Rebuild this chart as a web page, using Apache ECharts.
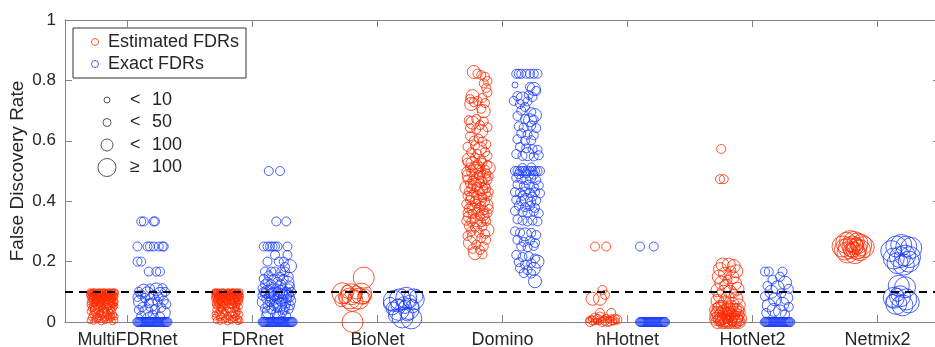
<!DOCTYPE html>
<html>
<head>
<meta charset="utf-8">
<script src="https://cdn.jsdelivr.net/npm/echarts@6/dist/echarts.min.js"></script>
<style>
  html, body { margin: 0; padding: 0; background: #fff; }
  #chart { width: 935px; height: 347px; }
</style>
</head>
<body>
<div id="chart"></div>
<script>
const categories = ["MultiFDRnet", "FDRnet", "BioNet", "Domino", "hHotnet", "HotNet2", "Netmix2"];

/** size legend: class 1..4 */
const sizeOps = ["<", "<", "<", "≥"];
const sizeLimits = [10, 50, 100, 100];

/** every point: [jitter from group centre, FDR, size class] */
const multiFdrEst = [
    [-0.10,0.100,1],[-0.08,0.099,1],[-0.06,0.100,1],[-0.04,0.098,1],[-0.02,0.100,1],[0.00,0.099,1],[0.02,0.100,1],[0.04,0.097,1],[0.06,0.100,1],[0.08,0.099,1],[0.10,0.100,1],
    [-0.095,0.097,1],[-0.075,0.1,1],[-0.055,0.097,1],[-0.035,0.1,1],[-0.015,0.096,1],[0.005,0.1,1],[0.025,0.096,1],[0.045,0.1,1],[0.065,0.096,1],[0.085,0.1,1],[0.105,0.096,1],
    [-0.09,0.094,1],[-0.07,0.092,1],[-0.05,0.095,1],[-0.03,0.091,1],[-0.01,0.094,1],[0.01,0.092,1],[0.03,0.095,1],[0.05,0.090,1],[0.07,0.093,1],[0.09,0.091,1],
    [-0.105,0.091,1],[-0.085,0.088,1],[-0.065,0.09,1],[-0.045,0.087,1],[-0.025,0.089,1],[-0.005,0.087,1],[0.015,0.089,1],[0.035,0.088,1],[0.055,0.086,1],[0.075,0.088,1],[0.095,0.087,1],
    [-0.10,0.086,1],[-0.08,0.083,1],[-0.06,0.087,1],[-0.03,0.084,1],[-0.01,0.081,1],[0.02,0.086,1],[0.04,0.083,1],[0.06,0.088,1],[0.08,0.082,1],[0.10,0.085,1],
    [-0.095,0.08,1],[-0.07,0.079,1],[-0.045,0.082,1],[-0.02,0.078,1],[0.005,0.081,1],[0.03,0.078,1],[0.05,0.081,1],[0.07,0.078,1],[0.09,0.08,1],
    [-0.09,0.077,1],[-0.06,0.074,1],[-0.04,0.078,1],[-0.02,0.072,1],[0.01,0.076,1],[0.03,0.071,1],[0.05,0.079,1],[0.08,0.074,1],[0.10,0.070,1],
    [-0.085,0.068,1],[-0.06,0.07,1],[-0.035,0.066,1],[-0.01,0.069,1],[0.015,0.067,1],[0.04,0.07,1],[0.075,0.066,1],[0.1,0.064,1],
    [-0.10,0.066,1],[-0.07,0.063,1],[-0.05,0.068,1],[-0.02,0.061,1],[0.00,0.065,1],[0.03,0.062,1],[0.06,0.067,1],[0.09,0.060,1],
    [-0.1,0.057,1],[-0.065,0.059,1],[-0.015,0.056,1],[0.035,0.057,1],[0.085,0.056,1],
    [-0.08,0.055,1],[-0.05,0.052,1],[-0.03,0.057,1],[0.00,0.050,1],[0.02,0.054,1],[0.05,0.051,1],[0.07,0.058,1],[0.10,0.053,1],
    [-0.09,0.045,1],[-0.06,0.041,2],[-0.03,0.047,1],[-0.01,0.043,1],[0.02,0.040,1],[0.04,0.046,1],[0.07,0.042,1],[0.09,0.048,1],[-0.075,0.044,1],[0.055,0.037,1],
    [-0.10,0.035,1],[-0.07,0.031,1],[-0.04,0.036,1],[-0.02,0.033,1],[0.01,0.030,2],[0.03,0.037,1],[0.06,0.032,1],[0.08,0.038,1],[-0.015,0.03,1],
    [-0.08,0.025,1],[-0.05,0.021,1],[-0.02,0.027,1],[0.00,0.022,1],[0.03,0.026,1],[0.05,0.020,1],[0.09,0.024,1],[0.075,0.02,1],
    [-0.09,0.015,1],[-0.06,0.012,1],[-0.03,0.017,1],[0.01,0.011,1],[0.04,0.016,1],[0.07,0.013,1],[0.10,0.018,1],[-0.035,0.01,1],[0.025,0.013,1],
    [-0.10,0.005,1],[-0.07,0.002,1],[-0.04,0.007,1],[-0.01,0.000,1],[0.02,0.004,1],[0.05,0.008,1],[0.08,0.001,1],[0.10,0.006,1],
];
const multiFdrExact = [
    [-0.09,0.333,2],[-0.07,0.333,2],[0.01,0.333,2],[0.02,0.333,2],
    [-0.12,0.25,2],[-0.04,0.25,2],[-0.02,0.25,2],[0.01,0.25,2],[0.05,0.25,2],[0.08,0.25,2],[0.09,0.25,2],
    [-0.12,0.2,2],[-0.09,0.2,2],[-0.03,0.167,2],[0.03,0.167,2],[0.06,0.167,2],
    [-0.11,0.100,2],[-0.07,0.104,3],[-0.02,0.111,2],[0.03,0.108,3],[0.08,0.112,2],[0.10,0.100,2],[-0.09,0.091,2],[-0.04,0.095,3],[0.01,0.090,2],[0.06,0.093,3],
    [-0.12,0.083,2],[-0.06,0.080,2],[0.00,0.077,3],[0.05,0.083,2],[0.09,0.071,2],[-0.10,0.067,3],[-0.03,0.062,2],[0.04,0.067,2],[0.11,0.059,2],[-0.08,0.050,2],
    [-0.01,0.056,3],[0.07,0.048,2],[-0.11,0.040,2],[-0.05,0.035,3],[0.02,0.042,2],[0.09,0.030,3],[-0.09,0.020,2],[0.00,0.025,2],[0.06,0.017,2],[-0.03,0.010,3],
    [-0.121,0,2],[-0.113,0,2],[-0.104,0,2],[-0.097,0,2],[-0.089,0,2],[-0.081,0,2],[-0.073,0,2],[-0.066,0,2],[-0.057,0,2],[-0.049,0,2],[-0.041,0,2],
    [-0.033,0,2],[-0.026,0,2],[-0.017,0,2],[-0.009,0,2],[-0.002,0,2],[0.007,0,2],[0.015,0,2],[0.023,0,2],[0.031,0,2],[0.039,0,2],[0.046,0,2],
    [0.055,0,2],[0.063,0,2],[0.071,0,2],[0.079,0,2],[0.087,0,2],[0.096,0,2],[0.104,0,2],[0.112,0,2],[0.120,0,2],
];
const fdrEst = [
    [-0.10,0.1,1],[-0.085,0.098,1],[-0.07,0.1,1],[-0.05,0.099,1],[-0.03,0.1,1],[-0.015,0.097,1],[0.0,0.1,1],[0.02,0.098,1],[0.035,0.1,1],[0.05,0.099,1],[0.07,0.1,1],[0.085,0.097,1],[0.10,0.1,1],
    [-0.105,0.096,1],[-0.09,0.1,1],[-0.06,0.096,1],[-0.04,0.1,1],[-0.02,0.095,1],[0.01,0.1,1],[0.025,0.095,1],[0.045,0.1,1],[0.06,0.095,1],[0.08,0.1,1],[0.095,0.095,1],
    [-0.095,0.092,1],[-0.075,0.09,1],[-0.055,0.093,1],[-0.035,0.089,1],[-0.01,0.092,1],[0.01,0.09,1],[0.03,0.093,1],[0.055,0.089,1],[0.075,0.092,1],[0.095,0.09,1],
    [-0.1,0.088,1],[-0.08,0.086,1],[-0.065,0.088,1],[-0.045,0.086,1],[-0.02,0.087,1],[0.0,0.086,1],[0.02,0.088,1],[0.04,0.086,1],[0.065,0.087,1],[0.085,0.088,1],[0.105,0.086,1],
    [-0.1,0.083,1],[-0.08,0.08,1],[-0.055,0.084,1],[-0.03,0.081,1],[-0.005,0.085,1],[0.02,0.08,1],[0.045,0.083,1],[0.065,0.079,1],[0.09,0.084,1],
    [-0.105,0.078,1],[-0.07,0.077,1],[-0.045,0.079,1],[-0.02,0.076,1],[0.015,0.078,1],[0.04,0.077,1],[0.075,0.076,1],[0.1,0.079,1],
    [-0.09,0.073,1],[-0.065,0.07,1],[-0.04,0.075,1],[-0.015,0.071,1],[0.01,0.074,1],[0.035,0.069,1],[0.06,0.073,1],[0.085,0.07,1],[0.1,0.075,1],
    [-0.085,0.067,1],[-0.06,0.068,1],[-0.025,0.066,1],[0.0,0.068,1],[0.045,0.067,1],[0.07,0.068,1],[0.095,0.066,1],
    [-0.1,0.063,1],[-0.075,0.06,1],[-0.05,0.065,1],[-0.02,0.058,1],[0.005,0.062,1],[0.03,0.066,1],[0.055,0.059,1],[0.08,0.063,1],
    [-0.095,0.056,1],[-0.045,0.057,1],[0.02,0.055,1],[0.075,0.055,1],
    [-0.085,0.052,1],[-0.06,0.048,1],[-0.035,0.054,1],[-0.01,0.05,1],[0.015,0.046,2],[0.04,0.052,1],[0.065,0.047,1],[0.095,0.051,1],
    [-0.095,0.04,1],[-0.07,0.037,1],[-0.045,0.042,1],[-0.02,0.035,1],[0.005,0.039,1],[0.03,0.034,2],[0.06,0.041,1],[0.085,0.036,1],[-0.055,0.045,1],[0.075,0.044,1],
    [-0.08,0.028,1],[-0.05,0.024,1],[-0.025,0.029,1],[0.0,0.022,1],[0.025,0.027,1],[0.05,0.023,1],[0.075,0.029,1],[0.1,0.025,1],[-0.1,0.026,1],
    [-0.1,0.016,1],[-0.065,0.013,1],[-0.04,0.018,1],[-0.01,0.011,1],[0.015,0.016,1],[0.045,0.012,1],[0.07,0.017,1],[0.09,0.01,1],
    [-0.09,0.005,1],[-0.06,0.002,1],[-0.03,0.006,1],[0.0,0.0,1],[0.03,0.004,1],[0.06,0.007,1],[0.085,0.001,1],[0.1,0.004,1],
];
const fdrExact = [
    [-0.07,0.5,2],[0.02,0.5,2],[-0.01,0.333,2],[0.07,0.333,2],
    [-0.11,0.25,2],[-0.08,0.25,2],[-0.06,0.25,2],[-0.04,0.25,2],[-0.02,0.25,2],[0.00,0.25,2],[0.08,0.25,2],
    [-0.02,0.222,2],[0.08,0.222,2],[-0.08,0.2,2],[0.01,0.2,2],[0.05,0.2,2],[0.10,0.185,3],[0.06,0.182,2],
    [-0.10,0.167,2],[-0.05,0.167,2],[-0.02,0.167,2],[0.03,0.167,2],[0.06,0.167,2],[-0.07,0.154,2],[0.02,0.15,2],[0.09,0.15,2],
    [-0.11,0.143,2],[-0.03,0.143,2],[0.05,0.143,2],[-0.08,0.133,2],[0.00,0.133,2],[0.08,0.13,3],
    [-0.10,0.125,2],[-0.05,0.125,2],[0.03,0.125,2],[0.10,0.118,2],[-0.12,0.111,2],[-0.06,0.111,2],[-0.01,0.111,2],[0.04,0.111,2],[0.09,0.111,2],
    [-0.11,0.1,2],[-0.08,0.1,3],[-0.04,0.1,2],[0.00,0.1,2],[0.03,0.1,3],[0.07,0.1,2],[0.11,0.1,2],
    [-0.10,0.095,2],[-0.06,0.094,2],[-0.02,0.092,3],[0.02,0.095,2],[0.05,0.091,2],[0.09,0.094,2],
    [-0.12,0.087,2],[-0.07,0.085,2],[-0.03,0.088,2],[0.01,0.083,2],[0.06,0.086,3],[0.10,0.083,2],
    [-0.09,0.077,2],[-0.05,0.075,2],[0.00,0.077,2],[0.04,0.074,2],[0.08,0.078,2],[0.11,0.071,2],
    [-0.11,0.067,3],[-0.06,0.066,2],[-0.01,0.063,2],[0.03,0.067,2],[0.07,0.062,2],
    [-0.08,0.056,2],[-0.03,0.053,2],[0.02,0.057,3],[0.06,0.05,2],[0.10,0.055,2],
    [-0.10,0.045,2],[-0.05,0.042,2],[0.00,0.046,2],[0.05,0.04,2],[0.09,0.043,2],
    [-0.07,0.033,3],[-0.01,0.03,2],[0.04,0.032,2],[-0.09,0.022,2],[0.07,0.02,2],[0.01,0.015,3],
    [-0.119,0,2],[-0.111,0,2],[-0.103,0,2],[-0.095,0,2],[-0.088,0,2],[-0.079,0,2],[-0.071,0,2],[-0.064,0,2],[-0.056,0,2],[-0.047,0,2],[-0.039,0,2],
    [-0.032,0,2],[-0.024,0,2],[-0.016,0,2],[-0.008,0,2],[0.001,0,2],[0.008,0,2],[0.016,0,2],[0.025,0,2],[0.032,0,2],[0.040,0,2],[0.048,0,2],
    [0.056,0,2],[0.064,0,2],[0.072,0,2],[0.081,0,2],[0.089,0,2],[0.097,0,2],[0.105,0,2],[0.113,0,2],[0.121,0,2],
];
const bioNetEst = [
    [0.09,0.147,4],[-0.08,0.095,4],[-0.04,0.1,3],[-0.01,0.092,4],[0.03,0.098,3],[0.07,0.094,4],[0.10,0.088,3],[-0.06,0.083,3],
    [-0.02,0.078,4],[0.02,0.085,3],[0.05,0.077,4],[0.09,0.081,3],[-0.09,0.072,3],[0.00,0.07,4],[0.0,0.0,4],
];
const bioNetExact = [
    [-0.10,0.06,3],[-0.07,0.07,4],[-0.04,0.055,3],[-0.02,0.075,4],[0.01,0.062,3],[0.03,0.08,4],[0.06,0.068,3],[0.09,0.075,4],[0.11,0.085,3],
    [-0.08,0.045,3],[-0.03,0.04,4],[0.02,0.05,3],[0.05,0.043,4],[0.08,0.052,3],[-0.06,0.02,3],[0.00,0.015,4],[0.04,0.025,3],[0.07,0.012,4],
];
const dominoEst = [
    [-0.03,0.828,3],[0.00,0.822,2],[0.03,0.818,2],[0.06,0.812,2],[0.08,0.798,2],[0.05,0.79,2],[0.07,0.775,2],[0.08,0.76,2],
    [-0.04,0.748,3],[-0.06,0.738,2],[-0.03,0.728,2],[-0.05,0.722,3],[0.00,0.732,2],[0.04,0.742,2],[0.06,0.725,2],[0.03,0.706,2],[0.05,0.698,3],
    [-0.07,0.668,2],[-0.04,0.66,3],[-0.01,0.672,2],[0.02,0.652,2],[0.05,0.664,2],[-0.06,0.642,2],[-0.01,0.638,2],[0.03,0.632,3],[0.08,0.645,2],
    [-0.06,0.615,2],[-0.03,0.6,2],[0.01,0.607,2],[0.04,0.597,2],[0.07,0.588,2],[-0.08,0.58,2],[0.02,0.575,3],[-0.02,0.585,2],
    [-0.05,0.562,2],[0.00,0.556,2],[0.06,0.563,2],[-0.02,0.545,2],[0.08,0.55,2],[-0.07,0.538,3],[0.03,0.535,2],
    [-0.08,0.528,2],[-0.04,0.525,3],[0.00,0.522,2],[0.04,0.527,2],[0.08,0.52,2],
    [-0.06,0.512,2],[-0.02,0.508,3],[0.02,0.514,2],[0.06,0.505,2],[0.09,0.51,3],
    [-0.09,0.498,2],[-0.05,0.495,2],[-0.01,0.5,3],[0.03,0.496,2],[0.07,0.492,2],
    [-0.07,0.485,3],[-0.03,0.482,2],[0.01,0.486,2],[0.05,0.48,3],[0.09,0.483,2],
    [-0.08,0.472,2],[-0.04,0.468,2],[0.00,0.474,3],[0.04,0.466,2],[0.08,0.47,2],
    [-0.06,0.458,2],[-0.02,0.455,3],[0.02,0.46,2],[0.06,0.452,2],
    [-0.09,0.445,3],[-0.05,0.442,2],[-0.01,0.447,2],[0.03,0.44,3],[0.07,0.443,2],
    [-0.07,0.432,2],[-0.03,0.428,2],[0.01,0.434,2],[0.05,0.426,3],[0.09,0.43,2],
    [-0.08,0.418,2],[-0.04,0.414,3],[0.00,0.42,2],[0.04,0.412,2],[0.08,0.416,2],
    [-0.06,0.404,2],[-0.02,0.4,2],[0.02,0.406,3],[0.06,0.398,2],
    [-0.09,0.39,2],[-0.05,0.386,2],[-0.01,0.392,2],[0.03,0.384,2],[0.07,0.388,3],
    [-0.07,0.376,2],[-0.03,0.372,3],[0.01,0.378,2],[0.05,0.37,2],[0.09,0.374,2],
    [-0.08,0.362,2],[-0.04,0.358,2],[0.00,0.364,2],[0.04,0.356,3],[0.08,0.36,2],
    [-0.06,0.348,3],[-0.02,0.344,2],[0.02,0.35,2],[0.06,0.342,2],
    [-0.09,0.335,2],[-0.05,0.332,2],[-0.01,0.337,3],[0.03,0.33,2],[0.07,0.334,2],
    [-0.07,0.318,2],[-0.02,0.312,2],[0.04,0.316,2],[0.08,0.305,3],[-0.05,0.3,2],[0.01,0.296,2],[0.06,0.292,2],[-0.08,0.285,2],[-0.03,0.282,3],[0.03,0.278,2],[0.07,0.272,2],
    [-0.06,0.262,3],[-0.01,0.256,2],[0.05,0.25,2],[-0.04,0.242,2],[0.02,0.238,2],[-0.02,0.228,3],[0.04,0.224,2],
];
const dominoExact = [
    [-0.09,0.822,2],[-0.07,0.822,2],[-0.05,0.822,2],[-0.01,0.822,2],[0.02,0.822,2],[0.05,0.822,2],[0.08,0.822,2],
    [-0.10,0.785,1],[0.02,0.778,2],[0.05,0.772,3],[0.07,0.765,2],
    [-0.08,0.748,2],[-0.04,0.74,3],[0.01,0.752,2],[0.04,0.745,2],[-0.11,0.732,2],[-0.06,0.722,2],[0.00,0.73,2],[-0.02,0.712,2],
    [-0.05,0.7,2],[0.03,0.695,2],[-0.08,0.682,2],[0.06,0.685,3],[-0.02,0.672,2],[0.02,0.668,3],[0.05,0.67,2],
    [-0.07,0.648,2],[-0.03,0.644,2],[0.03,0.65,2],[0.07,0.642,2],[-0.05,0.625,2],[0.00,0.62,2],[0.05,0.618,2],[-0.08,0.605,2],[-0.02,0.6,2],[0.03,0.602,2],
    [-0.06,0.58,2],[-0.01,0.575,2],[0.04,0.572,2],[0.08,0.57,2],[-0.09,0.556,2],[-0.04,0.55,2],[0.00,0.556,3],[0.05,0.548,2],[0.09,0.552,2],
    [-0.10,0.5,2],[-0.08,0.5,2],[-0.06,0.5,2],[-0.04,0.5,2],[-0.02,0.5,2],[0.00,0.5,2],[0.02,0.5,2],[0.04,0.5,2],[0.06,0.5,2],[0.08,0.5,2],[0.10,0.5,2],
    [-0.07,0.49,2],[-0.01,0.492,2],[0.05,0.488,2],[-0.04,0.51,2],[0.03,0.512,2],
    [-0.09,0.478,2],[-0.05,0.474,2],[-0.01,0.47,2],[0.03,0.476,2],[0.07,0.47,2],[-0.08,0.455,2],[-0.03,0.45,2],[0.01,0.455,2],[0.05,0.448,2],[0.09,0.452,2],
    [-0.10,0.43,2],[-0.06,0.428,2],[-0.02,0.432,2],[0.02,0.428,2],[0.06,0.43,2],[0.10,0.426,2],[-0.04,0.418,2],[0.04,0.415,2],
    [-0.09,0.405,2],[-0.05,0.4,2],[-0.01,0.404,3],[0.03,0.398,2],[0.07,0.402,2],[-0.07,0.385,2],[-0.02,0.38,2],[0.02,0.384,2],[0.06,0.378,2],
    [-0.10,0.368,2],[-0.04,0.364,2],[0.00,0.362,2],[0.05,0.366,2],[0.09,0.36,2],
    [-0.08,0.34,2],[-0.04,0.336,2],[0.00,0.333,2],[0.04,0.336,2],[0.08,0.333,2],
    [-0.10,0.3,2],[-0.06,0.296,2],[-0.02,0.29,3],[0.03,0.295,2],[0.07,0.288,2],[-0.08,0.272,2],[-0.03,0.265,2],[0.02,0.27,2],[0.06,0.262,2],
    [-0.05,0.25,2],[0.00,0.248,2],[0.05,0.252,2],
    [-0.09,0.222,2],[-0.04,0.215,2],[0.01,0.218,2],[0.06,0.21,2],[-0.07,0.198,2],[-0.02,0.19,2],[0.03,0.195,2],[0.08,0.2,3],
    [-0.06,0.178,2],[0.00,0.172,2],[0.05,0.176,3],[-0.03,0.162,2],[0.03,0.16,2],[0.06,0.135,3],
];
const hHotnetEst = [
    [-0.06,0.25,2],[0.03,0.25,2],[0.00,0.106,2],[0.02,0.09,2],[-0.08,0.077,3],[-0.02,0.077,3],[-0.02,0.03,2],[0.07,0.03,2],
    [-0.11,0.007,1],[-0.10,0.0,2],[-0.09,0.012,1],[-0.08,0.005,2],[-0.07,0.0,1],[-0.06,0.015,2],[-0.05,0.003,1],[-0.04,0.01,2],[-0.03,0.0,1],
    [-0.02,0.018,2],[-0.01,0.006,1],[0.00,0.0,2],[0.01,0.012,1],[0.02,0.004,2],[0.03,0.016,1],[0.04,0.0,2],[0.05,0.009,1],[0.06,0.002,2],
    [0.07,0.014,1],[0.08,0.006,2],[0.09,0.0,1],[0.10,0.011,2],[0.11,0.004,1],[0.12,0.008,2],
];
const hHotnetExact = [
    [-0.10,0.25,2],[0.01,0.25,2],
    [-0.100,0,2],[-0.093,0,2],[-0.085,0,2],[-0.077,0,2],[-0.070,0,2],[-0.061,0,2],[-0.054,0,2],[-0.046,0,2],[-0.038,0,2],[-0.031,0,2],[-0.022,0,2],
    [-0.015,0,2],[-0.007,0,2],[0.001,0,2],[0.009,0,2],[0.016,0,2],[0.024,0,2],[0.033,0,2],[0.040,0,2],[0.048,0,2],[0.055,0,2],[0.063,0,2],
    [0.071,0,2],[0.079,0,2],[0.086,0,2],[0.094,0,2],[0.101,0,2],
];
const hotNet2Est = [
    [-0.05,0.573,2],[-0.06,0.473,2],[-0.03,0.473,2],
    [-0.04,0.19,3],[0.01,0.19,3],[0.05,0.185,3],[-0.06,0.175,3],[0.03,0.17,2],[0.07,0.168,3],[-0.02,0.16,3],[-0.07,0.15,3],[0.04,0.148,3],[0.00,0.14,2],
    [-0.05,0.13,3],[0.06,0.128,3],[-0.01,0.12,3],[0.08,0.11,3],[-0.08,0.105,3],[-0.03,0.1,3],[0.02,0.1,3],[0.05,0.095,2],[-0.06,0.085,3],[0.00,0.08,3],
    [0.07,0.078,3],[-0.08,0.07,3],[-0.02,0.065,3],[0.04,0.06,3],[0.09,0.055,3],[-0.06,0.05,3],[0.01,0.045,3],[0.06,0.04,3],[-0.09,0.04,3],[-0.03,0.035,3],
    [-0.07,0.045,3],[-0.04,0.05,3],[0.03,0.05,3],[0.08,0.04,3],[0.00,0.04,3],[0.09,0.03,3],[0.01,0.03,3],[-0.09,0.022,3],[0.04,0.02,3],
    [-0.08,0.03,3],[-0.05,0.025,3],[-0.02,0.028,3],[0.02,0.024,3],[0.05,0.03,3],[0.08,0.022,3],[-0.07,0.018,3],[-0.03,0.015,3],[0.00,0.018,3],
    [0.03,0.012,3],[0.07,0.015,3],[0.10,0.01,3],[-0.09,0.01,3],[-0.06,0.008,3],[-0.01,0.006,3],[0.02,0.005,3],[0.05,0.007,3],[0.08,0.004,3],
    [-0.05,0.012,3],[-0.03,0.005,3],[0.07,0.008,3],
    [-0.08,0.0,3],[-0.04,0.0,3],[-0.01,0.0,3],[0.02,0.0,3],[0.06,0.0,3],[0.09,0.0,3],[-0.06,0.002,2],[0.04,0.002,2],[0.00,0.01,2],
];
const hotNet2Exact = [
    [-0.10,0.167,2],[-0.07,0.167,2],[0.04,0.167,2],[0.02,0.15,2],[-0.04,0.14,2],[0.06,0.13,3],[-0.08,0.12,2],[0.00,0.115,3],[0.09,0.11,2],[-0.05,0.1,3],
    [0.03,0.095,2],[-0.10,0.085,2],[0.07,0.08,3],[-0.02,0.075,3],[0.04,0.06,3],[-0.07,0.055,3],[0.09,0.05,2],[-0.03,0.04,3],[0.02,0.035,3],[-0.09,0.03,2],[0.06,0.025,2],
    [-0.101,0,2],[-0.094,0,2],[-0.086,0,2],[-0.078,0,2],[-0.071,0,2],[-0.062,0,2],[-0.055,0,2],[-0.047,0,2],[-0.039,0,2],[-0.032,0,2],[-0.023,0,2],
    [-0.016,0,2],[-0.008,0,2],[0.000,0,2],[0.008,0,2],[0.017,0,2],[0.025,0,2],[0.032,0,2],[0.041,0,2],[0.049,0,2],[0.056,0,2],[0.064,0,2],
    [0.072,0,2],[0.080,0,2],[0.087,0,2],[0.095,0,2],[0.102,0,2],
];
const netmix2Est = [
    [-0.08,0.25,4],[-0.05,0.262,4],[-0.02,0.268,4],[0.01,0.265,4],[0.04,0.26,4],[0.07,0.255,4],[0.09,0.248,4],[-0.06,0.24,4],[-0.03,0.245,4],[0.00,0.25,4],
    [0.03,0.242,4],[0.06,0.238,4],[-0.04,0.23,4],[0.02,0.228,4],[0.05,0.232,3],[-0.01,0.255,3],[0.03,0.258,3],[-0.02,0.238,3],[0.01,0.245,3],[0.04,0.25,3],
];
const netmix2Exact = [
    [-0.09,0.235,4],[-0.05,0.25,4],[-0.01,0.255,4],[0.03,0.25,4],[0.07,0.245,4],[-0.07,0.21,4],[-0.02,0.215,4],[0.02,0.22,4],[0.06,0.215,4],[-0.04,0.195,4],
    [0.01,0.19,4],[0.05,0.2,4],
    [-0.03,0.12,4],[0.02,0.115,4],[-0.07,0.08,4],[-0.02,0.085,4],[0.03,0.075,4],[-0.05,0.06,4],[0.00,0.055,4],[0.05,0.065,4],[-0.08,0.07,3],[-0.04,0.09,3],
];

const estGroups = [multiFdrEst, fdrEst, bioNetEst, dominoEst, hHotnetEst, hotNet2Est, netmix2Est];
const exactGroups = [multiFdrExact, fdrExact, bioNetExact, dominoExact, hHotnetExact, hotNet2Exact, netmix2Exact];
const threshold = 0.1;

const RED = "#ff2a00";
const BLUE = "#1a3cff";
const AXIS = "#858585";
const TEXT = "#262626";
const FONT = "Liberation Sans";
// 點的大小：類別 1..4 對應像素
const symbolPx = [0, 6, 9, 13, 21];
const legendPx = [6, 8, 12, 18];

// 每組放在類別位置左右 0.2
function buildPoints(groups, side) {
    const out = [];
    groups.forEach((group, i) => {
        group.forEach((p) => out.push([i + 1 + side * 0.2 + p[0], p[1], p[2]]));
    });
    return out;
}

const chart = echarts.init(document.getElementById("chart"), null, { renderer: "canvas" });

const sizeLegend = [];
sizeOps.forEach((op, i) => {
    const cy = 100 + i * 22.5;
    sizeLegend.push({
        type: "circle",
        shape: { cx: 107, cy: cy, r: legendPx[i] / 2 },
        style: { fill: "none", stroke: "#555", lineWidth: 1 },
    });
    sizeLegend.push({
        type: "text",
        x: 130, y: cy,
        style: { text: op, fontSize: 18, fontFamily: FONT, fill: TEXT, verticalAlign: "middle" },
    });
    sizeLegend.push({
        type: "text",
        x: 152, y: cy,
        style: { text: String(sizeLimits[i]), fontSize: 18, fontFamily: FONT, fill: TEXT, verticalAlign: "middle" },
    });
});

const option = {
    animation: false,
    backgroundColor: "#fff",
    textStyle: { fontFamily: FONT },
    grid: { left: 65, right: -5, top: 20, bottom: 25, containLabel: false, outerBoundsMode: "none" },
    legend: {
        orient: "vertical",
        left: 73,
        top: 28,
        padding: [5, 7, 5, 18],
        itemGap: 4,
        itemWidth: 16,
        itemHeight: 7,
        borderColor: "#333",
        borderWidth: 1,
        backgroundColor: "#fff",
        textStyle: { fontSize: 18, color: TEXT, fontFamily: FONT },
        data: [
            { name: "Estimated FDRs", icon: "circle", itemStyle: { color: "#fff", borderColor: RED, borderWidth: 1 } },
            { name: "Exact FDRs", icon: "circle", itemStyle: { color: "#fff", borderColor: BLUE, borderWidth: 1 } },
        ],
    },
    xAxis: [
        { type: "value", min: 0.5, max: 7.5, show: false },
        {
            type: "category",
            data: categories,
            position: "bottom",
            boundaryGap: true,
            axisLine: { show: true, lineStyle: { color: AXIS, width: 1 } },
            axisTick: { show: true, inside: true, alignWithLabel: true, interval: 0, length: 7, lineStyle: { color: AXIS } },
            axisLabel: { interval: 0, fontSize: 18, color: TEXT, margin: 9, fontFamily: FONT },
            splitLine: { show: false },
        },
        {
            type: "category",
            data: categories,
            position: "top",
            boundaryGap: true,
            axisLine: { show: true, lineStyle: { color: AXIS, width: 1 } },
            axisTick: { show: true, inside: true, alignWithLabel: true, interval: 0, length: 7, lineStyle: { color: AXIS } },
            axisLabel: { show: false },
            splitLine: { show: false },
        },
    ],
    yAxis: [
        {
            type: "value",
            min: 0,
            max: 1,
            interval: 0.2,
            position: "left",
            name: "False Discovery Rate",
            nameLocation: "middle",
            nameGap: 38,
            nameMoveOverlap: false,
            nameTextStyle: { fontSize: 19, color: TEXT, fontFamily: FONT },
            axisLine: { show: true, lineStyle: { color: AXIS, width: 1 } },
            axisTick: { show: true, inside: true, length: 7, lineStyle: { color: AXIS } },
            axisLabel: { fontSize: 17, color: TEXT, margin: 9, fontFamily: FONT },
            splitLine: { show: false },
        },
        {
            type: "value",
            min: 0,
            max: 1,
            interval: 0.2,
            position: "right",
            axisLine: { show: true, lineStyle: { color: AXIS, width: 1 } },
            axisTick: { show: true, inside: true, length: 7, lineStyle: { color: AXIS } },
            axisLabel: { show: false },
            splitLine: { show: false },
        },
    ],
    graphic: sizeLegend,
    series: [
        {
            name: "Estimated FDRs",
            type: "scatter",
            xAxisIndex: 0,
            yAxisIndex: 0,
            clip: false,
            symbol: "circle",
            symbolSize: (v) => symbolPx[v[2]],
            itemStyle: { color: "rgba(255,255,255,0)", borderColor: RED, borderWidth: 1 },
            emphasis: { disabled: true },
            data: buildPoints(estGroups, -1),
        },
        {
            name: "Exact FDRs",
            type: "scatter",
            xAxisIndex: 0,
            yAxisIndex: 0,
            clip: false,
            symbol: "circle",
            symbolSize: (v) => symbolPx[v[2]],
            itemStyle: { color: "rgba(255,255,255,0)", borderColor: BLUE, borderWidth: 1 },
            emphasis: { disabled: true },
            data: buildPoints(exactGroups, 1),
            markLine: {
                silent: true,
                symbol: ["none", "none"],
                label: { show: false },
                lineStyle: { color: "#000", width: 2, type: [8, 6] },
                data: [{ yAxis: threshold }],
            },
        },
    ],
};

chart.setOption(option);
</script>
</body>
</html>
